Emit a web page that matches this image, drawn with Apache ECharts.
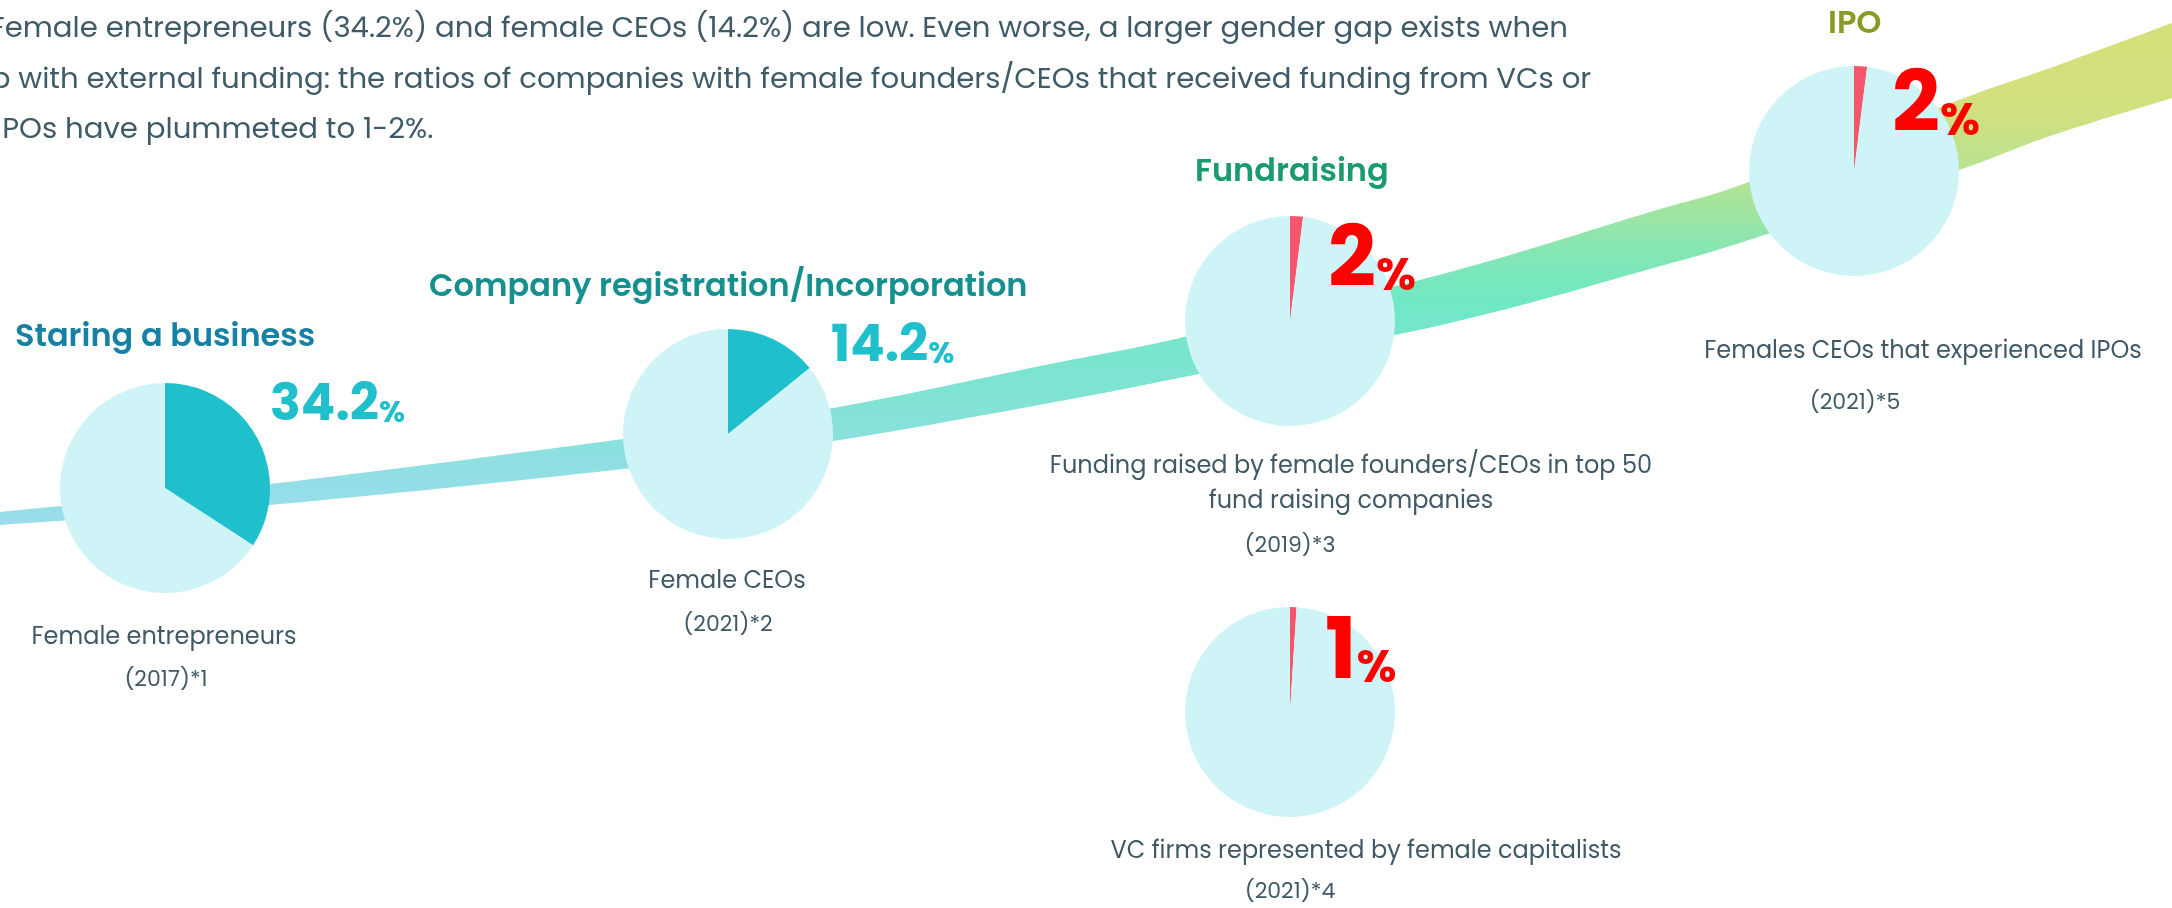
<!DOCTYPE html>
<html>
<head>
<meta charset="utf-8">
<script src="https://cdn.jsdelivr.net/npm/echarts@6/dist/echarts.min.js"></script>
<style>
  html, body { margin: 0; padding: 0; background: #fff; }
  #main { width: 2172px; height: 908px; }
</style>
</head>
<body>
<div id="main"></div>
<script>
// data
const stages = ['Staring a business', 'Company registration/Incorporation', 'Fundraising', '', 'IPO'];
const shares = [34.2, 14.2, 2, 1, 2];
const shareLabels = ['34.2', '14.2', '2', '1', '2'];
const descriptions = [
    ['Female entrepreneurs'],
    ['Female CEOs'],
    ['Funding raised by female founders/CEOs in top 50', 'fund raising companies'],
    ['VC firms represented by female capitalists'],
    ['Females CEOs that experienced IPOs']
];
const years = ['(2017)*1', '(2021)*2', '(2019)*3', '(2021)*4', '(2021)*5'];
const headerLines = [
    'Female entrepreneurs (34.2%) and female CEOs (14.2%) are low. Even worse, a larger gender gap exists when',
    'up with external funding: the ratios of companies with female founders/CEOs that received funding from VCs or',
    'IPOs have plummeted to 1-2%.'
];
// the road behind the pies: x, top edge, width
const bandX = [0, 270, 623, 833, 1050, 1184, 1450, 1650, 1749, 1959, 2050, 2172];
const bandTop = [512, 484, 439, 408, 364, 337, 272, 212, 182, 100, 68, 23];
const bandWidth = [13, 21, 30, 33, 39, 40, 51, 57, 58, 70, 68, 75];

// layout
const FONT = 'Poppins, Inter, sans-serif';
const pies = [
    { c: [165, 488], accent: '#1fbfcc', valColor: '#20bfcc', val: [270, 433], valSize: 51, pctSize: 30, pctPad: 4,
      title: [15, 349, '#1681a3'], desc: [164, 646], year: [166, 688] },
    { c: [728, 434], accent: '#1fbfcc', valColor: '#20bfcc', val: [831, 374], valSize: 51, pctSize: 30, pctPad: 4,
      title: [429, 299, '#16908f'], desc: [727, 590], year: [728, 633] },
    { c: [1290, 321], accent: '#f4566c', valColor: '#ff0000', val: [1328, 307], valSize: 84, pctSize: 46, pctPad: 6,
      title: [1195, 184, '#1a9b6c'], desc: [1351, 475], year: [1290, 554] },
    { c: [1290, 712], accent: '#f4566c', valColor: '#ff0000', val: [1325, 699], valSize: 84, pctSize: 46, pctPad: 6,
      title: null, desc: [1366, 860], year: [1290, 900] },
    { c: [1854, 171], accent: '#f4566c', valColor: '#ff0000', val: [1892, 152], valSize: 84, pctSize: 46, pctPad: 6,
      title: [1828, 36, '#8a9a24'], desc: [1923, 360], year: [1855, 411] }
];

function txt(x, base, s, size, color, weight, align) {
    return {
        type: 'text', x: x, y: base - size * 0.33, silent: true, z: 100,
        style: { text: s, fontSize: size, fontWeight: weight || 400, fontFamily: FONT, fill: color,
                 align: align || 'left', verticalAlign: 'middle' }
    };
}

// catmull-rom through screen points, as bezier path commands
function curve(pts, cont) {
    let d = (cont ? 'L' : 'M') + pts[0][0] + ' ' + pts[0][1];
    for (let i = 0; i < pts.length - 1; i++) {
        const p0 = pts[Math.max(i - 1, 0)], p1 = pts[i], p2 = pts[i + 1], p3 = pts[Math.min(i + 2, pts.length - 1)];
        const c1 = [p1[0] + (p2[0] - p0[0]) / 6, p1[1] + (p2[1] - p0[1]) / 6];
        const c2 = [p2[0] - (p3[0] - p1[0]) / 6, p2[1] - (p3[1] - p1[1]) / 6];
        d += 'C' + c1[0] + ' ' + c1[1] + ' ' + c2[0] + ' ' + c2[1] + ' ' + p2[0] + ' ' + p2[1];
    }
    return d;
}

const bandFill = new echarts.graphic.LinearGradient(0, 0, 0, 908, [
    { offset: 0.04, color: '#d6e07a' },
    { offset: 0.12, color: '#d2e07e' },
    { offset: 0.20, color: '#b3e394' },
    { offset: 0.275, color: '#86e6b2' },
    { offset: 0.33, color: '#70e8c4' },
    { offset: 0.43, color: '#7fe3d3' },
    { offset: 0.50, color: '#8de0e0' },
    { offset: 0.58, color: '#9cdcee' }
], true);

const chart = echarts.init(document.getElementById('main'));

const series = [{
    type: 'custom', silent: true, z: 1,
    data: [[0, 0]],
    renderItem: function (params, api) {
        const top = bandX.map((x, i) => api.coord([x, bandTop[i]]));
        const bottom = bandX.map((x, i) => api.coord([x, bandTop[i] + bandWidth[i]])).reverse();
        return {
            type: 'path',
            shape: { pathData: curve(top) + curve(bottom, true) + 'Z' },
            style: { fill: bandFill, stroke: null }
        };
    }
}];

const graphic = [];
headerLines.forEach((line, i) => {
    const xs = [-10, -28, -5];
    graphic.push(txt(xs[i], [39, 90, 140][i], line, 29.2, '#3f5b68', 400));
});

pies.forEach((p, i) => {
    series.push({
        type: 'pie', center: p.c, radius: 105, startAngle: 90, clockwise: true, silent: true,
        label: { show: false }, labelLine: { show: false }, z: 3,
        itemStyle: { borderWidth: 0 },
        data: [
            { value: shares[i], itemStyle: { color: p.accent } },
            { value: 100 - shares[i], itemStyle: { color: '#cff4f7' } }
        ]
    });
    graphic.push({
        type: 'text', x: p.val[0], y: p.val[1], silent: true, z: 100,
        style: {
            text: '{n|' + shareLabels[i] + '}{p|%}', align: 'left', verticalAlign: 'bottom',
            rich: {
                n: { fontSize: p.valSize, fontWeight: 700, fontFamily: FONT, fill: p.valColor, lineHeight: p.valSize, verticalAlign: 'bottom' },
                p: { fontSize: p.pctSize, fontWeight: 700, fontFamily: FONT, fill: p.valColor, lineHeight: p.pctSize, verticalAlign: 'bottom',
                     padding: [0, 0, p.pctPad, 0] }
            }
        }
    });
    if (p.title) graphic.push(txt(p.title[0], p.title[1], stages[i], 32, p.title[2], 600));
    descriptions[i].forEach((d, j) => {
        graphic.push(txt(p.desc[0], p.desc[1] + j * 35, d, 24, '#3f5966', 400, 'center'));
    });
    graphic.push(txt(p.year[0], p.year[1], years[i], 22, '#3f5966', 400, 'center'));
});

chart.setOption({
    animation: false,
    grid: { left: 0, right: 0, top: 0, bottom: 0 },
    xAxis: { type: 'value', min: 0, max: 2172, show: false },
    yAxis: { type: 'value', min: 0, max: 908, inverse: true, show: false },
    series: series,
    graphic: graphic
});
</script>
</body>
</html>
